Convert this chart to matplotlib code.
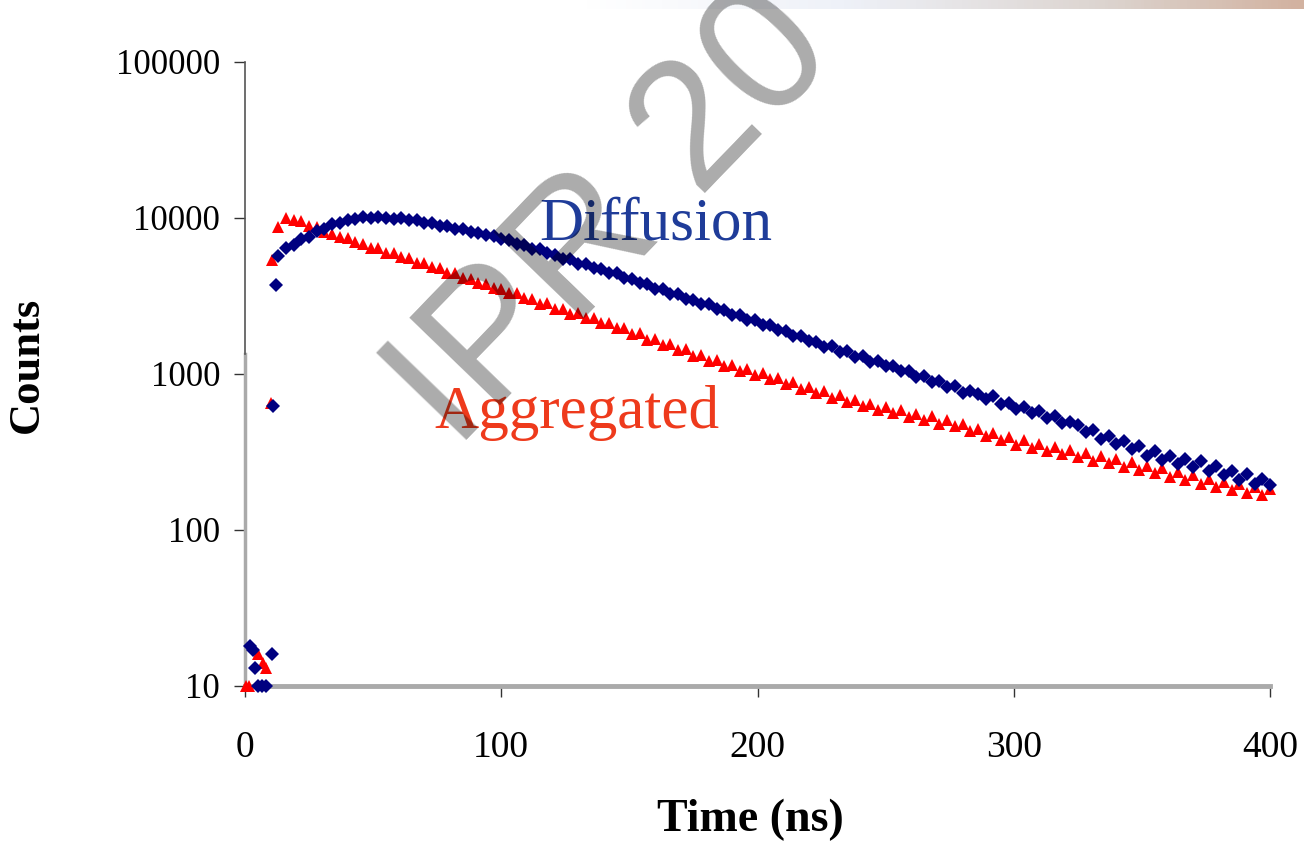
import numpy as np
import matplotlib
matplotlib.use("Agg")
import matplotlib.pyplot as plt
from matplotlib.colors import LinearSegmentedColormap

# early (rise) points
diff_early_t = [2, 3, 4, 5, 6.5, 8, 10.5, 11, 12]
diff_early_v = [18, 17, 13, 10, 10, 10, 16, 620, 3700]
aggr_early_t = [0.5, 1.5, 5, 7, 8, 10, 10.5]
aggr_early_v = [10, 10, 16, 14, 13, 650, 5400]

# main decay, one reading every 3 ns starting at 13 ns
diffusion = [5700, 6400, 6700, 7350, 7500, 8200, 8450, 9100, 9250, 9750,
             9800, 10100, 9950, 10200, 10050, 9900, 10050, 9700, 9650, 9250,
             9300, 8900, 8850, 8550, 8500, 8150, 8050, 7750, 7650, 7350,
             7200, 6850, 6750, 6350, 6300, 5950, 5800, 5500, 5420, 5100,
             5080, 4760, 4720, 4450, 4420, 4150, 4080, 3820, 3760, 3530,
             3500, 3280, 3240, 3020, 2980, 2800, 2790, 2610, 2570, 2400,
             2400, 2220, 2230, 2050, 2060, 1910, 1880, 1760, 1750, 1620,
             1610, 1500, 1510, 1390, 1400, 1290, 1300, 1200, 1210, 1120,
             1130, 1040, 1050, 960, 975, 890, 905, 830, 835, 760,
             780, 745, 690, 720, 645, 655, 600, 610, 560, 575,
             520, 535, 485, 495, 470, 425, 440, 385, 400, 355,
             370, 330, 345, 300, 320, 280, 300, 265, 285, 255,
             275, 240, 258, 225, 240, 210, 228, 198, 212, 195]
aggregated = [8800, 10000, 9650, 9550, 8900, 8700, 8150, 7950, 7500, 7400,
              6980, 6850, 6450, 6380, 6000, 5950, 5620, 5560, 5180, 5130,
              4830, 4790, 4460, 4420, 4150, 4090, 3830, 3800, 3570, 3520,
              3290, 3290, 3070, 3040, 2830, 2840, 2610, 2620, 2430, 2450,
              2270, 2290, 2110, 2130, 1980, 1970, 1800, 1820, 1660, 1680,
              1530, 1550, 1420, 1440, 1300, 1320, 1210, 1230, 1120, 1140,
              1040, 1080, 980, 1010, 925, 945, 865, 885, 805, 825,
              755, 775, 705, 730, 665, 680, 625, 645, 590, 615,
              560, 590, 530, 555, 505, 535, 480, 510, 462, 478,
              428, 447, 400, 420, 375, 392, 350, 375, 336, 358,
              322, 340, 306, 326, 292, 313, 278, 297, 268, 284,
              255, 271, 243, 259, 232, 248, 219, 234, 209, 224,
              198, 212, 188, 202, 181, 196, 172, 190, 168, 182]

t_diff = 13 + 3 * np.arange(len(diffusion))
t_aggr = 13 + 3 * np.arange(len(aggregated))

x_ticks = [0, 100, 200, 300, 400]
y_ticks = [10, 100, 1000, 10000, 100000]
y_tick_labels = ["10", "100", "1000", "10000", "100000"]

plt.rcParams['font.family'] = ['Liberation Serif', 'DejaVu Serif']

fig = plt.figure(figsize=(13.04, 8.49), dpi=100)

# faint gradient strip along the top edge
band = fig.add_axes([0, 1 - 9 / 849, 1, 9 / 849])
cmap = LinearSegmentedColormap.from_list(
    "band", [(0, "#ffffff"), (0.45, "#ffffff"), (0.65, "#eef1f8"),
             (0.85, "#dcd4cf"), (1, "#d2b2a0")])
band.imshow(np.linspace(0, 1, 400)[None, :], aspect="auto", cmap=cmap)
band.axis("off")

ax = fig.add_axes([245 / 1304, 1 - 686 / 849, 1025 / 1304, 624 / 849])
ax.set_yscale("log")

ax.plot(aggr_early_t + list(t_aggr), aggr_early_v + aggregated, linestyle="none",
        marker="^", ms=9, color="#ff0000", mew=0, clip_on=False, zorder=3)
ax.plot(diff_early_t + list(t_diff), diff_early_v + diffusion, linestyle="none",
        marker="D", ms=7.5, color="#000080", mew=0, clip_on=False, zorder=4)

ax.set_xlim(0, 400)
ax.set_ylim(10, 100000)
ax.set_xticks(x_ticks)
ax.set_yticks(y_ticks)
ax.set_yticklabels(y_tick_labels)
ax.minorticks_off()
ax.tick_params(axis="x", direction="out", length=8, width=1, color="#333333",
               labelsize=27, pad=24)
ax.tick_params(axis="y", direction="out", length=8, width=1, color="#333333",
               labelsize=25, pad=10)

for s in ["top", "right"]:
    ax.spines[s].set_visible(False)
ax.spines["bottom"].set_color("#aaaaaa")
ax.spines["bottom"].set_linewidth(3.5)
ax.spines["left"].set_color("#aaaaaa")
ax.spines["left"].set_linewidth(2.5)
ax.spines["left"].set_bounds(10, 1350)
ax.plot([0, 0], [1350, 100000], color="#555555", lw=1.2, clip_on=False, zorder=5)

ax.set_xlabel("Time (ns)", fontsize=33, fontweight="bold")
ax.xaxis.set_label_coords(0.493, -0.18)
ax.set_ylabel("Counts", fontsize=32, fontweight="bold")
ax.yaxis.set_label_coords(-0.193, 0.514)

ax.text(115, 7230, "Diffusion", fontsize=44, color="#1f3c99", va="baseline")
ax.text(74, 451, "Aggregated", fontsize=44, color="#ee3a1c", va="baseline")

# watermark, anchored at the start of its baseline
fig.text(0.349, 0.4676, "IPR 20", fontsize=130, family="Liberation Sans",
         rotation=46, rotation_mode="anchor", color="black", alpha=0.33,
         ha="left", va="baseline")

fig.savefig("out.png", dpi=100)
